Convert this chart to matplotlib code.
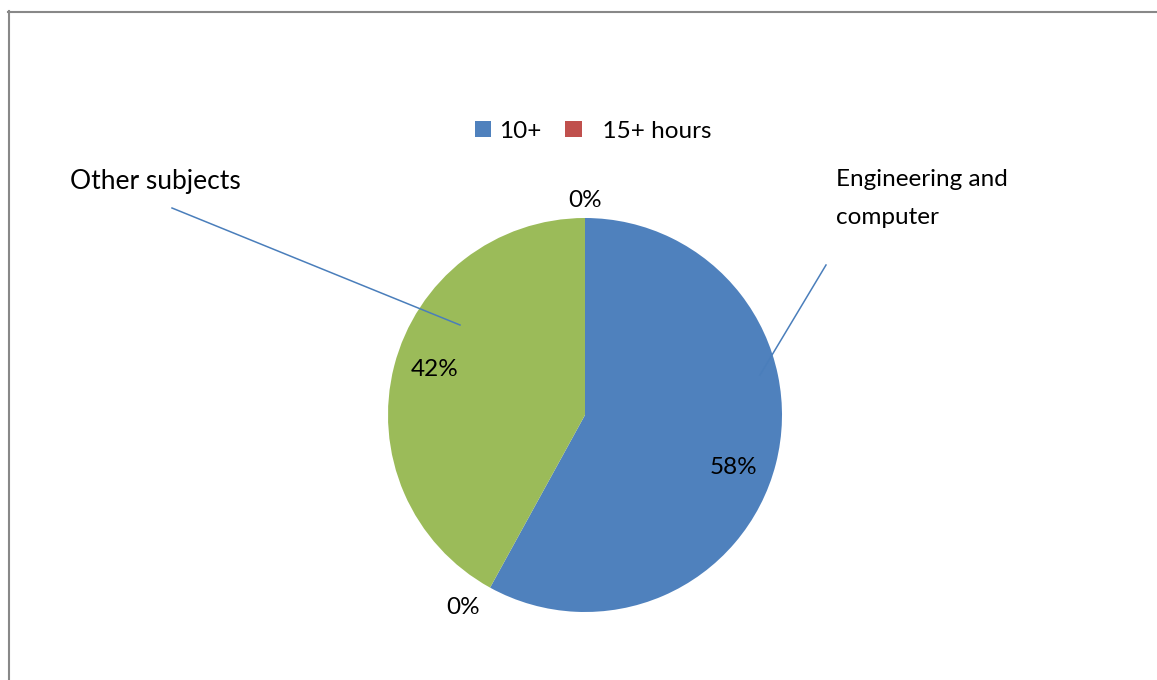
import matplotlib
matplotlib.use("Agg")
import matplotlib.pyplot as plt
from matplotlib.lines import Line2D
from matplotlib.patches import Patch

plt.rcParams['font.family'] = ['Lato', 'DejaVu Sans']

# Data
series_names = ["10+", "15+ hours", "Series 3", "Series 4"]
legend_names = ["10+", "  15+ hours"]
values = [58, 0, 42, 0]
pct_labels = ["58%", "0%", "42%", "0%"]
category_labels = ["Engineering and\ncomputer", "Other subjects"]
colors = ["#4F81BD", "#C0504D", "#9BBB59", "#8064A2"]

W, H = 1157, 680
fig = plt.figure(figsize=(W / 100, H / 100), dpi=100)
ax = fig.add_axes([0, 0, 1, 1])

CX, CY, R = 585, 415, 197
def px(x, y):
    return ((x - CX) / R, (CY - y) / R)

ax.pie(values, colors=colors, startangle=90, counterclock=False,
       radius=1.0, center=(0, 0), wedgeprops=dict(linewidth=0))
ax.set_xlim((0 - CX) / R, (W - CX) / R)
ax.set_ylim((CY - H) / R, CY / R)
ax.set_aspect('equal')
ax.axis('off')

fs = 17.5
# percentage labels
pct_pos = [(733, 467), (463, 608), (435, 369), (585, 200)]
for lab, (x, y) in zip(pct_labels, pct_pos):
    ax.text(*px(x, y), lab, ha='center', va='center', fontsize=fs, color='black')

# category labels with leader lines
ax.text(*px(836, 198), category_labels[0], ha='left', va='center', fontsize=fs,
        linespacing=2.0, color='black')
ax.plot(*zip(px(826, 265), px(760, 375)), color='#4A7EBB', lw=1.1, zorder=3)
ax.text(*px(70, 181), category_labels[1], ha='left', va='center', fontsize=fs + 1.5,
        color='black')
ax.plot(*zip(px(172, 208), px(460, 325)), color='#4A7EBB', lw=1.1, zorder=3)

# legend
handles = [Patch(facecolor=c, edgecolor='none') for c in colors[:2]]
ax.legend(handles, legend_names, loc='center', bbox_to_anchor=(593 / W, 1 - 131 / H),
          bbox_transform=fig.transFigure, ncol=2, frameon=False, fontsize=fs,
          handlelength=0.68, handleheight=0.68, handletextpad=0.33, columnspacing=0.95)

# chart frame
fig.add_artist(Line2D([8 / W, 1], [1 - 11.5 / H, 1 - 11.5 / H], color='#888888', lw=1.5,
                      transform=fig.transFigure))
fig.add_artist(Line2D([8.5 / W, 8.5 / W], [0, 1 - 11 / H], color='#888888', lw=1.5,
                      transform=fig.transFigure))

fig.savefig("out.png", dpi=100)
